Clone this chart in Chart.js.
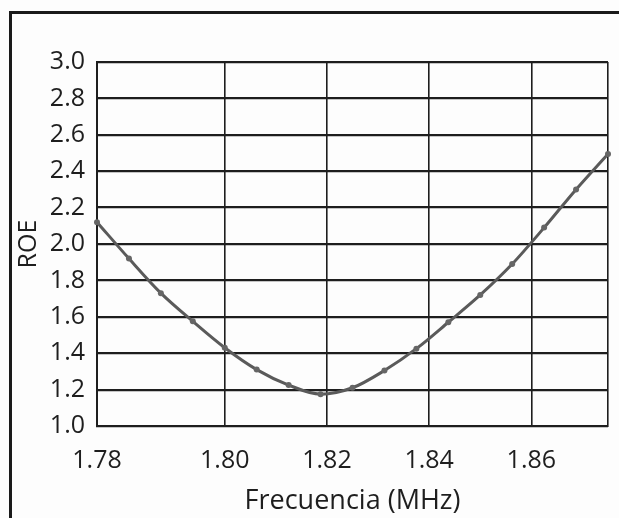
<!DOCTYPE html>
<html>
<head>
<meta charset="utf-8">
<script src="https://cdn.jsdelivr.net/npm/chart.js@4"></script>
<style>
html,body{margin:0;padding:0;background:#fdfdfd;}
#wrap{position:absolute;left:0;top:0;width:619px;height:518px;}
</style>
</head>
<body>
<div id="wrap"><canvas id="c" width="619" height="518"></canvas></div>
<script>
// Data
const frequencies = [1.775, 1.78125, 1.7875, 1.79375, 1.80, 1.80625, 1.8125, 1.81875, 1.825, 1.83125, 1.8375, 1.84375, 1.85, 1.85625, 1.8625, 1.86875, 1.875];
const roeValues   = [2.12, 1.92, 1.73, 1.575, 1.43, 1.31, 1.225, 1.175, 1.21, 1.305, 1.425, 1.57, 1.72, 1.89, 2.09, 2.30, 2.495];
const xTickValues = [1.775, 1.80, 1.82, 1.84, 1.86, 1.875];
const xTickLabels = ['1.78', '1.80', '1.82', '1.84', '1.86', ''];
const yTickValues = [1.0, 1.2, 1.4, 1.6, 1.8, 2.0, 2.2, 2.4, 2.6, 2.8, 3.0];
const xTitle = 'Frecuencia (MHz)';
const yTitle = 'ROE';

const FONT = '"Open Sans", "Noto Sans", sans-serif';
const INK = '#1e1e1e';

const framePlugin = {
  id: 'frame',
  beforeDraw(chart) {
    const ctx = chart.ctx;
    ctx.save();
    ctx.fillStyle = '#fdfdfd';
    ctx.fillRect(0, 0, chart.width, chart.height);
    ctx.strokeStyle = '#1a1a1a';
    ctx.lineWidth = 3;
    ctx.beginPath();
    ctx.moveTo(10.5, chart.height + 2);
    ctx.lineTo(10.5, 12.5);
    ctx.lineTo(chart.width + 2, 12.5);
    ctx.stroke();
    ctx.restore();
  }
};

new Chart(document.getElementById('c'), {
  type: 'line',
  data: {
    datasets: [{
      data: frequencies.map((f, i) => ({ x: f, y: roeValues[i] })),
      borderColor: '#5a5a5a',
      backgroundColor: '#5a5a5a',
      borderWidth: 3,
      pointRadius: 3,
      pointBorderWidth: 0,
      pointBackgroundColor: '#666',
      cubicInterpolationMode: 'monotone',
      fill: false,
      clip: false
    }]
  },
  options: {
    responsive: false,
    animation: false,
    devicePixelRatio: 1,
    layout: { padding: { left: 0, top: 62, right: 11, bottom: 0 } },
    plugins: { legend: { display: false }, tooltip: { enabled: false } },
    scales: {
      x: {
        type: 'linear',
        min: 1.775,
        max: 1.875,
        afterBuildTicks(scale) { scale.ticks = xTickValues.map(v => ({ value: v })); },
        afterFit(scale) { scale.height = 92; scale.paddingRight = 0; scale.paddingLeft = 0; },
        ticks: {
          autoSkip: false,
          maxRotation: 0,
          padding: 20,
          color: INK,
          font: { family: FONT, size: 25 },
          callback: (v, i) => xTickLabels[i]
        },
        grid: { color: INK, lineWidth: 1.6, drawTicks: false },
        border: { display: true, color: INK, width: 2 },
        title: {
          display: true,
          text: xTitle,
          color: INK,
          font: { family: FONT, size: 27 },
          padding: { top: 0, bottom: 0 }
        }
      },
      y: {
        type: 'linear',
        min: 1.0,
        max: 3.0,
        afterBuildTicks(scale) { scale.ticks = yTickValues.map(v => ({ value: v })); },
        afterFit(scale) { scale.width = 97; },
        ticks: {
          padding: 12,
          color: INK,
          font: { family: FONT, size: 25 },
          callback: v => Number(v).toFixed(1)
        },
        grid: { color: INK, lineWidth: 2.2, drawTicks: false },
        border: { display: true, color: INK, width: 2 },
        title: {
          display: true,
          text: yTitle,
          color: INK,
          font: { family: FONT, size: 25 },
          padding: { top: 14, bottom: 0 }
        }
      }
    }
  },
  plugins: [framePlugin]
});
</script>
</body>
</html>
